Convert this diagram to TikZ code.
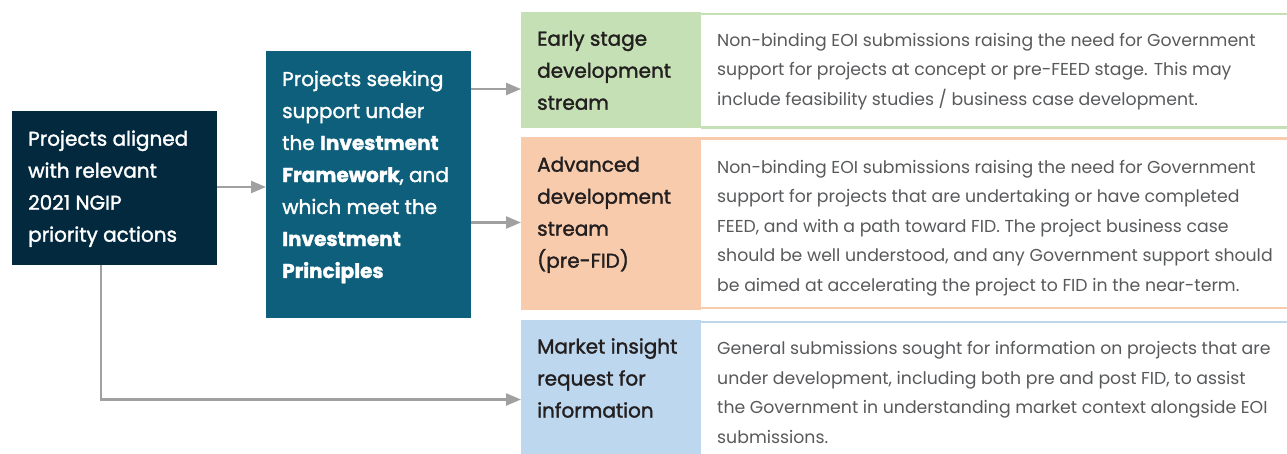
\documentclass[tikz,border=0pt]{standalone}
\usepackage{fontspec}
\setmainfont{Poppins}
\newfontfamily\medfont{Poppins}[FakeBold=1.6]
\usetikzlibrary{arrows.meta}
\definecolor{navy}{HTML}{03293F}
\definecolor{tealbox}{HTML}{0D5F7B}
\definecolor{greenfill}{HTML}{C5E0B4}
\definecolor{orangefill}{HTML}{F8CBAD}
\definecolor{bluefill}{HTML}{BDD7EE}
\definecolor{arrowgray}{HTML}{A0A0A0}
\definecolor{desctext}{HTML}{58595B}
\definecolor{titletext}{HTML}{231F20}
\tikzset{
  panel/.style={rectangle, inner sep=0pt, outer sep=0pt, anchor=north west},
  % base anchor of a multi-line node sits on its last line
  boxtext/.style={anchor=base west, inner sep=0pt, align=left, text=white,
    font=\medfont\fontsize{20}{32}\selectfont},
  titletxt/.style={anchor=base west, inner sep=0pt, align=left, text=titletext,
    font=\medfont\fontsize{20}{32}\selectfont},
  desctxt/.style={anchor=base west, inner sep=0pt, align=left, text=desctext,
    font=\fontsize{17.3}{29.6}\selectfont},
  rule/.style={line width=2.4pt},
  arr/.style={draw=arrowgray, line width=2.4pt,
    -{Triangle[length=15pt, width=12pt]}},
}
\begin{document}
\begin{tikzpicture}[x=1pt, y=-1pt]
\useasboundingbox (0,0) rectangle (1287,454);

% left-hand boxes
\node[panel, fill=navy, minimum width=205pt, minimum height=154pt] (A) at (12,111) {};
\node[panel, fill=tealbox, minimum width=205pt, minimum height=267pt] (B) at (266,51) {};
\node[boxtext] (At) at (28,241.7) {Projects aligned\\with relevant\\2021 NGIP\\priority actions};
\node[boxtext] (Bt) at (282,278) {Projects seeking\\support under\\the \textbf{Investment}\\\textbf{Framework}, and\\which meet the\\\textbf{Investment}\\\textbf{Principles}};

% stream boxes
\node[panel, fill=greenfill, minimum width=180pt, minimum height=116pt] (G) at (521,12.3) {};
\node[panel, fill=orangefill, minimum width=180pt, minimum height=173.3pt] (O) at (521,136.7) {};
\node[panel, fill=bluefill, minimum width=180pt, minimum height=134pt] (M) at (521,320) {};

% description panels
\node[panel, minimum width=586pt, minimum height=113.6pt] (Gd) at (701,13.8) {};
\node[panel, minimum width=586pt, minimum height=169.5pt] (Od) at (701,138.5) {};
\node[panel, minimum width=586pt, minimum height=132pt] (Md) at (701,322.2) {};
\draw[rule, greenfill] (Gd.north west) -- (Gd.north east);
\draw[rule, greenfill] (Gd.south west) -- (Gd.south east);
\draw[rule, orangefill] (Od.north west) -- (Od.north east);
\draw[rule, orangefill] (Od.south west) -- (Od.south east);
\draw[rule, bluefill] (Md.north west) -- (Md.north east);

% titles
\node[titletxt] (Gt) at (537,109.7) {Early stage\\development\\stream};
\node[titletxt] (Ot) at (537,267.7) {Advanced\\development\\stream\\(pre-FID)};
\node[titletxt] (Mt) at (537,417.5) {Market insight\\request for\\information};

% descriptions
\node[desctxt] (Gx) at (717,105.3) {Non-binding EOI submissions raising the need for Government\\support for projects at concept or pre-FEED stage. This may\\include feasibility studies / business case development.};
\node[desctxt] (Ox) at (717,291.5) {Non-binding EOI submissions raising the need for Government\\support for projects that are undertaking or have completed\\FEED, and with a path toward FID. The project business case\\should be well understood, and any Government support should\\be aimed at accelerating the project to FID in the near-term.};
\node[desctxt] (Mx) at (717,443.4) {General submissions sought for information on projects that are\\under development, including both pre and post FID, to assist\\the Government in understanding market context alongside EOI\\submissions.};

% connectors
\coordinate (ab) at (0,187);
\coordinate (gin) at (0,89);
\coordinate (oin) at (0,222.5);
\coordinate (bend) at (101,399.5);
\draw[arr] (A.east |- ab) -- (B.west |- ab);
\draw[arr] (B.east |- gin) -- (G.west |- gin);
\draw[arr] (B.east |- oin) -- (O.west |- oin);
\draw[arr] (A.south -| bend) -- (bend) -- (M.west |- bend);
\end{tikzpicture}
\end{document}
